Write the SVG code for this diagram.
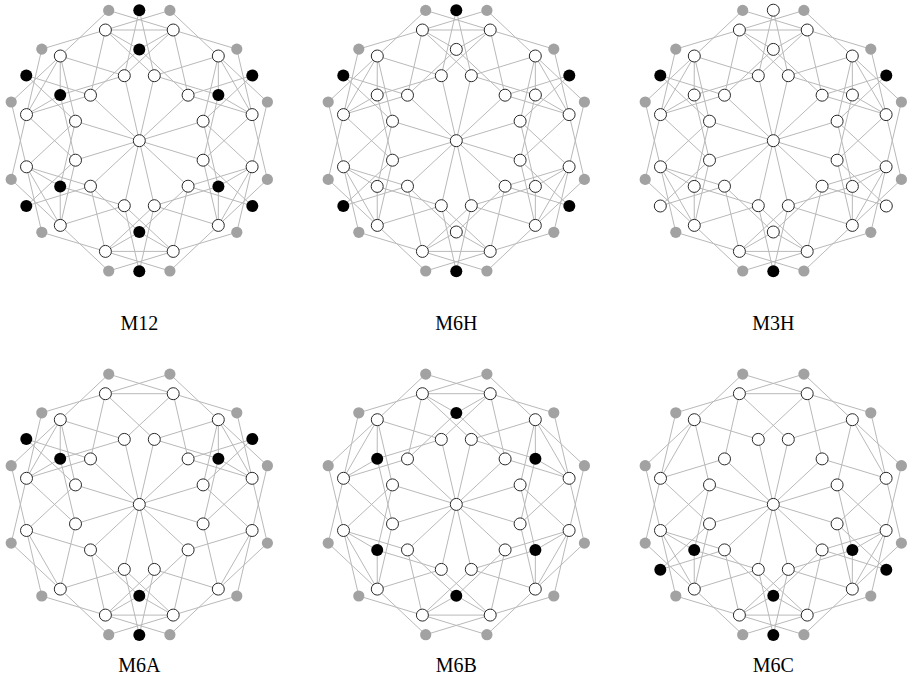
<svg xmlns="http://www.w3.org/2000/svg" xmlns:xlink="http://www.w3.org/1999/xlink" width="918" height="691" viewBox="0 0 918 691">
<style>
.e{stroke:#b9b9b9;stroke-width:1;fill:none}
.w{fill:#fff;stroke:#2a2a2a;stroke-width:1}
.g{fill:#a2a2a2}
.k{fill:#000}
.lbl{font-family:"Liberation Serif","DejaVu Serif",serif;font-size:20px;text-anchor:middle;fill:#000}
</style>
<defs>
<path id="base" class="e" d="M0 0L15-65M0 0L-15-65M0 0L48.8-45.5M0 0L63.8-19.5M0 0L63.8 19.5M0 0L48.8 45.5M0 0L15 65M0 0L-15 65M0 0L-48.8 45.5M0 0L-63.8 19.5M0 0L-63.8-19.5M0 0L-48.8-45.5
M-33.9-110.7L33.9-110.7M79-84.7L112.8-26.1M112.8 26.1L79 84.7M33.9 110.7L-33.9 110.7M-79 84.7L-112.8 26.1M-112.8-26.1L-79-84.7
M-30.6-130.3L33.9-110.7M30.6-130.3L-33.9-110.7M97.5-91.6L112.8-26.1M128.1-38.7L79-84.7M128.1 38.7L79 84.7M97.5 91.6L112.8 26.1M30.6 130.3L-33.9 110.7M-30.6 130.3L33.9 110.7M-97.5 91.6L-112.8 26.1M-128.1 38.7L-79 84.7M-128.1-38.7L-79-84.7M-97.5-91.6L-112.8-26.1
M33.9-110.7L97.5-91.6M30.6-130.3L79-84.7M112.8-26.1L128.1 38.7M128.1-38.7L112.8 26.1M79 84.7L30.6 130.3M97.5 91.6L33.9 110.7M-33.9 110.7L-97.5 91.6M-30.6 130.3L-79 84.7M-112.8 26.1L-128.1-38.7M-128.1 38.7L-112.8-26.1M-79-84.7L-30.6-130.3M-97.5-91.6L-33.9-110.7
M33.9-110.7L48.8-45.5M15-65L79-84.7M112.8-26.1L63.8 19.5M63.8-19.5L112.8 26.1M79 84.7L15 65M48.8 45.5L33.9 110.7M-33.9 110.7L-48.8 45.5M-15 65L-79 84.7M-112.8 26.1L-63.8-19.5M-63.8 19.5L-112.8-26.1M-79-84.7L-15-65M-48.8-45.5L-33.9-110.7
M-33.9-110.7L15-65M33.9-110.7L-15-65M79-84.7L63.8-19.5M112.8-26.1L48.8-45.5M112.8 26.1L48.8 45.5M79 84.7L63.8 19.5M33.9 110.7L-15 65M-33.9 110.7L15 65M-79 84.7L-63.8 19.5M-112.8 26.1L-48.8 45.5M-112.8-26.1L-48.8-45.5M-79-84.7L-63.8-19.5"/>
<path id="d0" class="e" d="M0-130.5L-15-65M0-130.5L15-65"/>
<path id="d1" class="e" d="M113-65.3L48.8-45.5M113-65.3L63.8-19.5"/>
<path id="d2" class="e" d="M113 65.3L63.8 19.5M113 65.3L48.8 45.5"/>
<path id="d3" class="e" d="M0 130.5L15 65M0 130.5L-15 65"/>
<path id="d4" class="e" d="M-113 65.3L-48.8 45.5M-113 65.3L-63.8 19.5"/>
<path id="d5" class="e" d="M-113-65.3L-63.8-19.5M-113-65.3L-48.8-45.5"/>
<path id="b0" class="e" d="M0-91.3L-33.9-110.7M0-91.3L33.9-110.7M0-91.3L-48.8-45.5M0-91.3L48.8-45.5"/>
<path id="b1" class="e" d="M79.1-45.7L79-84.7M79.1-45.7L112.8-26.1M79.1-45.7L15-65M79.1-45.7L63.8 19.5"/>
<path id="b2" class="e" d="M79.1 45.7L112.8 26.1M79.1 45.7L79 84.7M79.1 45.7L63.8-19.5M79.1 45.7L15 65"/>
<path id="b3" class="e" d="M0 91.3L33.9 110.7M0 91.3L-33.9 110.7M0 91.3L48.8 45.5M0 91.3L-48.8 45.5"/>
<path id="b4" class="e" d="M-79.1 45.7L-79 84.7M-79.1 45.7L-112.8 26.1M-79.1 45.7L-15 65M-79.1 45.7L-63.8-19.5"/>
<path id="b5" class="e" d="M-79.1-45.7L-112.8-26.1M-79.1-45.7L-79-84.7M-79.1-45.7L-63.8 19.5M-79.1-45.7L-15-65"/>
<g id="core">
<circle class="w" cx="0" cy="0" r="6"/>
<circle class="w" cx="-15" cy="-65" r="6"/><circle class="w" cx="15" cy="-65" r="6"/><circle class="w" cx="48.8" cy="-45.5" r="6"/><circle class="w" cx="63.8" cy="-19.5" r="6"/><circle class="w" cx="63.8" cy="19.5" r="6"/><circle class="w" cx="48.8" cy="45.5" r="6"/><circle class="w" cx="15" cy="65" r="6"/><circle class="w" cx="-15" cy="65" r="6"/><circle class="w" cx="-48.8" cy="45.5" r="6"/><circle class="w" cx="-63.8" cy="19.5" r="6"/><circle class="w" cx="-63.8" cy="-19.5" r="6"/><circle class="w" cx="-48.8" cy="-45.5" r="6"/>
<circle class="w" cx="-33.9" cy="-110.7" r="6"/><circle class="w" cx="33.9" cy="-110.7" r="6"/><circle class="w" cx="79" cy="-84.7" r="6"/><circle class="w" cx="112.8" cy="-26.1" r="6"/><circle class="w" cx="112.8" cy="26.1" r="6"/><circle class="w" cx="79" cy="84.7" r="6"/><circle class="w" cx="33.9" cy="110.7" r="6"/><circle class="w" cx="-33.9" cy="110.7" r="6"/><circle class="w" cx="-79" cy="84.7" r="6"/><circle class="w" cx="-112.8" cy="26.1" r="6"/><circle class="w" cx="-112.8" cy="-26.1" r="6"/><circle class="w" cx="-79" cy="-84.7" r="6"/>
<circle class="g" cx="-30.6" cy="-130.3" r="5.6"/><circle class="g" cx="30.6" cy="-130.3" r="5.6"/><circle class="g" cx="97.5" cy="-91.6" r="5.6"/><circle class="g" cx="128.1" cy="-38.7" r="5.6"/><circle class="g" cx="128.1" cy="38.7" r="5.6"/><circle class="g" cx="97.5" cy="91.6" r="5.6"/><circle class="g" cx="30.6" cy="130.3" r="5.6"/><circle class="g" cx="-30.6" cy="130.3" r="5.6"/><circle class="g" cx="-97.5" cy="91.6" r="5.6"/><circle class="g" cx="-128.1" cy="38.7" r="5.6"/><circle class="g" cx="-128.1" cy="-38.7" r="5.6"/><circle class="g" cx="-97.5" cy="-91.6" r="5.6"/>
</g>
</defs>
<rect width="918" height="691" fill="#fff"/>

<g id="panel-M12" transform="translate(139.3,140.7)">
<g id="M12-edges"><use href="#base"/><use href="#d0"/><use href="#d1"/><use href="#d2"/><use href="#d3"/><use href="#d4"/><use href="#d5"/><use href="#b0"/><use href="#b1"/><use href="#b2"/><use href="#b3"/><use href="#b4"/><use href="#b5"/></g>
<g id="M12-core"><use href="#core"/></g>
<g id="M12-B0"><circle class="k" cx="0" cy="-91.3" r="6"/></g>
<g id="M12-B1"><circle class="k" cx="79.1" cy="-45.7" r="6"/></g>
<g id="M12-B2"><circle class="k" cx="79.1" cy="45.7" r="6"/></g>
<g id="M12-B3"><circle class="k" cx="0" cy="91.3" r="6"/></g>
<g id="M12-B4"><circle class="k" cx="-79.1" cy="45.7" r="6"/></g>
<g id="M12-B5"><circle class="k" cx="-79.1" cy="-45.7" r="6"/></g>
<g id="M12-D0"><circle class="k" cx="0" cy="-130.5" r="6"/></g>
<g id="M12-D1"><circle class="k" cx="113" cy="-65.3" r="6"/></g>
<g id="M12-D2"><circle class="k" cx="113" cy="65.3" r="6"/></g>
<g id="M12-D3"><circle class="k" cx="0" cy="130.5" r="6"/></g>
<g id="M12-D4"><circle class="k" cx="-113" cy="65.3" r="6"/></g>
<g id="M12-D5"><circle class="k" cx="-113" cy="-65.3" r="6"/></g>
<text class="lbl" x="0" y="189">M12</text>
</g>

<g id="panel-M6H" transform="translate(456.3,140.7)">
<g id="M6H-edges"><use href="#base"/><use href="#d0"/><use href="#d1"/><use href="#d2"/><use href="#d3"/><use href="#d4"/><use href="#d5"/><use href="#b0"/><use href="#b1"/><use href="#b2"/><use href="#b3"/><use href="#b4"/><use href="#b5"/></g>
<g id="M6H-core"><use href="#core"/></g>
<g id="M6H-B0"><circle class="w" cx="0" cy="-91.3" r="6"/></g>
<g id="M6H-B1"><circle class="w" cx="79.1" cy="-45.7" r="6"/></g>
<g id="M6H-B2"><circle class="w" cx="79.1" cy="45.7" r="6"/></g>
<g id="M6H-B3"><circle class="w" cx="0" cy="91.3" r="6"/></g>
<g id="M6H-B4"><circle class="w" cx="-79.1" cy="45.7" r="6"/></g>
<g id="M6H-B5"><circle class="w" cx="-79.1" cy="-45.7" r="6"/></g>
<g id="M6H-D0"><circle class="k" cx="0" cy="-130.5" r="6"/></g>
<g id="M6H-D1"><circle class="k" cx="113" cy="-65.3" r="6"/></g>
<g id="M6H-D2"><circle class="k" cx="113" cy="65.3" r="6"/></g>
<g id="M6H-D3"><circle class="k" cx="0" cy="130.5" r="6"/></g>
<g id="M6H-D4"><circle class="k" cx="-113" cy="65.3" r="6"/></g>
<g id="M6H-D5"><circle class="k" cx="-113" cy="-65.3" r="6"/></g>
<text class="lbl" x="0" y="189">M6H</text>
</g>

<g id="panel-M3H" transform="translate(773.3,140.7)">
<g id="M3H-edges"><use href="#base"/><use href="#d0"/><use href="#d1"/><use href="#d2"/><use href="#d3"/><use href="#d4"/><use href="#d5"/><use href="#b0"/><use href="#b1"/><use href="#b2"/><use href="#b3"/><use href="#b4"/><use href="#b5"/></g>
<g id="M3H-core"><use href="#core"/></g>
<g id="M3H-B0"><circle class="w" cx="0" cy="-91.3" r="6"/></g>
<g id="M3H-B1"><circle class="w" cx="79.1" cy="-45.7" r="6"/></g>
<g id="M3H-B2"><circle class="w" cx="79.1" cy="45.7" r="6"/></g>
<g id="M3H-B3"><circle class="w" cx="0" cy="91.3" r="6"/></g>
<g id="M3H-B4"><circle class="w" cx="-79.1" cy="45.7" r="6"/></g>
<g id="M3H-B5"><circle class="w" cx="-79.1" cy="-45.7" r="6"/></g>
<g id="M3H-D0"><circle class="w" cx="0" cy="-130.5" r="6"/></g>
<g id="M3H-D1"><circle class="k" cx="113" cy="-65.3" r="6"/></g>
<g id="M3H-D2"><circle class="w" cx="113" cy="65.3" r="6"/></g>
<g id="M3H-D3"><circle class="k" cx="0" cy="130.5" r="6"/></g>
<g id="M3H-D4"><circle class="w" cx="-113" cy="65.3" r="6"/></g>
<g id="M3H-D5"><circle class="k" cx="-113" cy="-65.3" r="6"/></g>
<text class="lbl" x="0" y="189">M3H</text>
</g>

<g id="panel-M6A" transform="translate(139.3,504.4)">
<g id="M6A-edges"><use href="#base"/><use href="#d1"/><use href="#d3"/><use href="#d5"/><use href="#b1"/><use href="#b3"/><use href="#b5"/></g>
<g id="M6A-core"><use href="#core"/></g>
<g id="M6A-B1"><circle class="k" cx="79.1" cy="-45.7" r="6"/></g>
<g id="M6A-B3"><circle class="k" cx="0" cy="91.3" r="6"/></g>
<g id="M6A-B5"><circle class="k" cx="-79.1" cy="-45.7" r="6"/></g>
<g id="M6A-D1"><circle class="k" cx="113" cy="-65.3" r="6"/></g>
<g id="M6A-D3"><circle class="k" cx="0" cy="130.5" r="6"/></g>
<g id="M6A-D5"><circle class="k" cx="-113" cy="-65.3" r="6"/></g>
<text class="lbl" x="0" y="168">M6A</text>
</g>

<g id="panel-M6B" transform="translate(456.3,504.4)">
<g id="M6B-edges"><use href="#base"/><use href="#b0"/><use href="#b1"/><use href="#b2"/><use href="#b3"/><use href="#b4"/><use href="#b5"/></g>
<g id="M6B-core"><use href="#core"/></g>
<g id="M6B-B0"><circle class="k" cx="0" cy="-91.3" r="6"/></g>
<g id="M6B-B1"><circle class="k" cx="79.1" cy="-45.7" r="6"/></g>
<g id="M6B-B2"><circle class="k" cx="79.1" cy="45.7" r="6"/></g>
<g id="M6B-B3"><circle class="k" cx="0" cy="91.3" r="6"/></g>
<g id="M6B-B4"><circle class="k" cx="-79.1" cy="45.7" r="6"/></g>
<g id="M6B-B5"><circle class="k" cx="-79.1" cy="-45.7" r="6"/></g>
<text class="lbl" x="0" y="168">M6B</text>
</g>

<g id="panel-M6C" transform="translate(773.3,504.4)">
<g id="M6C-edges"><use href="#base"/><use href="#d2"/><use href="#d3"/><use href="#d4"/><use href="#b2"/><use href="#b3"/><use href="#b4"/></g>
<g id="M6C-core"><use href="#core"/></g>
<g id="M6C-B2"><circle class="k" cx="79.1" cy="45.7" r="6"/></g>
<g id="M6C-B3"><circle class="k" cx="0" cy="91.3" r="6"/></g>
<g id="M6C-B4"><circle class="k" cx="-79.1" cy="45.7" r="6"/></g>
<g id="M6C-D2"><circle class="k" cx="113" cy="65.3" r="6"/></g>
<g id="M6C-D3"><circle class="k" cx="0" cy="130.5" r="6"/></g>
<g id="M6C-D4"><circle class="k" cx="-113" cy="65.3" r="6"/></g>
<text class="lbl" x="0" y="168">M6C</text>
</g>
</svg>
